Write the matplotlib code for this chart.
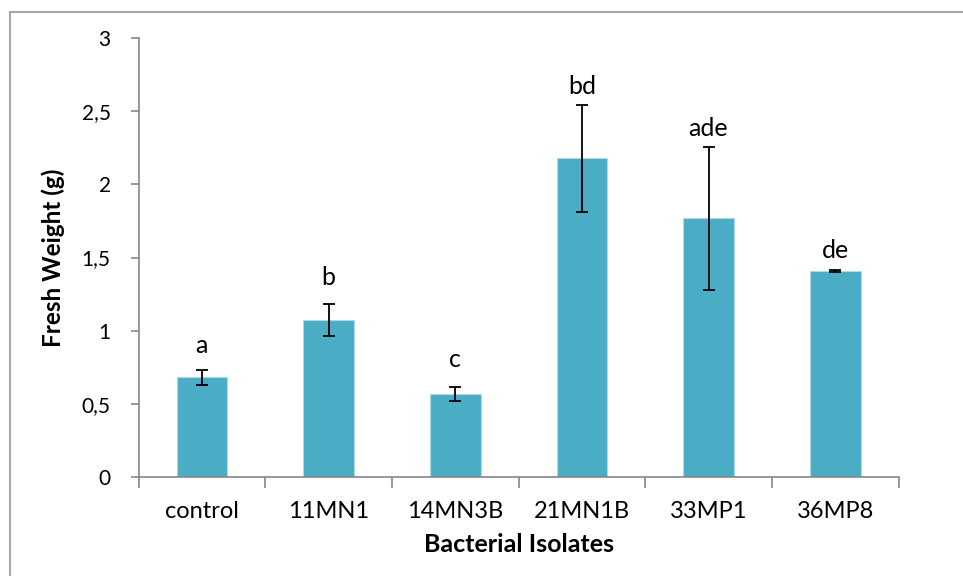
import numpy as np
import matplotlib.pyplot as plt
from matplotlib.patches import Rectangle

isolates = ['control', '11MN1', '14MN3B', '21MN1B', '33MP1', '36MP8']
fresh_weight = [0.68, 1.072, 0.568, 2.177, 1.768, 1.406]
std_err = [0.048, 0.11, 0.048, 0.367, 0.487, 0.006]
letters = ['a', 'b', 'c', 'bd', 'ade', 'de']
letter_y = [0.85, 1.31, 0.752, 2.614, 2.333, 1.498]
yticks = [0, 0.5, 1, 1.5, 2, 2.5, 3]
ytick_labels = ['0', '0,5', '1', '1,5', '2', '2,5', '3']

plt.rcParams['font.family'] = ['Lato', 'DejaVu Sans']
axis_grey = '#868686'

fig = plt.figure(figsize=(9.63, 5.76), dpi=100)
ax = fig.add_axes([138.5 / 963, 1 - 477 / 576, 760 / 963, 439 / 576])

x = np.arange(len(isolates))
ax.bar(x, fresh_weight, width=0.4, color='#4BACC6', edgecolor='#a9dbe8', linewidth=0.8, zorder=2)
ax.errorbar(x, fresh_weight, yerr=std_err, fmt='none', ecolor='black',
            elinewidth=1.3, capsize=4, capthick=1.3, zorder=3)

for xi, lab, ly in zip(x, letters, letter_y):
    ax.text(xi, ly, lab, ha='center', va='baseline', fontsize=18)

ax.set_xlim(-0.5, len(isolates) - 0.5)
ax.set_ylim(0, 3)
ax.set_yticks(yticks)
ax.set_yticklabels(ytick_labels, fontsize=15)
ax.set_xticks(x)
ax.set_xticklabels(isolates, fontsize=17)
ax.set_xticks(np.arange(-0.5, len(isolates)), minor=True)
ax.tick_params(axis='x', which='major', length=0, pad=17)
ax.tick_params(axis='x', which='minor', length=8, color=axis_grey, width=1.2)
ax.tick_params(axis='y', length=6, color=axis_grey, width=1.2, pad=14)

for side in ['top', 'right']:
    ax.spines[side].set_visible(False)
for side in ['left', 'bottom']:
    ax.spines[side].set_color(axis_grey)
    ax.spines[side].set_linewidth(1.2)

ax.set_xlabel('Bacterial Isolates', fontsize=18, fontweight='bold', labelpad=8)
ax.set_ylabel('Fresh Weight (g)', fontsize=17.5, fontweight='bold', labelpad=12)

fig.patches.append(Rectangle((10 / 963, -0.1), 2, 1.1 - 12 / 576, transform=fig.transFigure,
                             fill=False, edgecolor='#a6a6a6', linewidth=1.5))

fig.savefig('out.png', dpi=100)
